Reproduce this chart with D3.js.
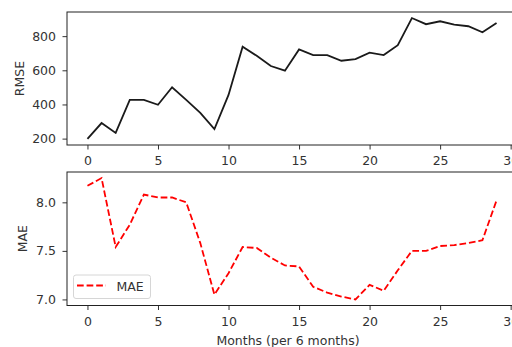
<!DOCTYPE html>
<html>
<head>
<meta charset="utf-8">
<script src="https://cdn.jsdelivr.net/npm/d3@7"></script>
<style>
  body { margin: 0; background: #fff; }
  text { font-family: "DejaVu Sans", sans-serif; fill: #333; }
</style>
</head>
<body>
<div id="chart"></div>
<script>
// months index (per 6 months)
const months = d3.range(0, 30);
const rmse = [198, 291, 233, 427, 427, 398, 501, 427, 351, 256,
  456, 738, 685, 625, 598, 722, 689, 689, 656, 666,
  703, 689, 747, 906, 870, 887, 868, 858, 823, 877];
const mae = [8.17, 8.25, 7.54, 7.77, 8.08, 8.05, 8.05, 8.0, 7.58, 7.05,
  7.27, 7.54, 7.53, 7.43, 7.35, 7.34, 7.13, 7.07, 7.03, 7.0,
  7.15, 7.09, 7.30, 7.50, 7.50, 7.55, 7.56, 7.58, 7.61, 8.02];
const xTicks = [0, 5, 10, 15, 20, 25, 30];
const rmseTicks = [200, 400, 600, 800];
const maeTicks = [7.0, 7.5, 8.0];

const width = 512, height = 347;
const left = 67, right = 517;
const fontSize = "12.5px";
const dash = "6.7,2.9";

const svg = d3.select("#chart").append("svg")
  .attr("width", width).attr("height", height);

// matplotlib style 5% margins
function padded(vals) {
  const [a, b] = d3.extent(vals);
  const m = (b - a) * 0.05;
  return [a - m, b + m];
}

const x = d3.scaleLinear().domain(padded(months)).range([left, right]);

function panel(top, bottom, values, yTicks, fmt, label, labelX, dashed) {
  const y = d3.scaleLinear().domain(padded(values)).range([bottom, top]);
  const g = svg.append("g");

  const line = d3.line().x((d, i) => x(months[i])).y(d => y(d));
  g.append("path")
    .datum(values)
    .attr("d", line)
    .attr("fill", "none")
    .attr("stroke", dashed ? "#ff0000" : "#1a1a1a")
    .attr("stroke-width", 1.8)
    .attr("stroke-dasharray", dashed ? dash : null);

  g.append("g")
    .attr("transform", `translate(0,${bottom})`)
    .call(d3.axisBottom(x).tickValues(xTicks).tickSize(4.5).tickPadding(7).tickFormat(d3.format("d")))
    .call(a => a.select(".domain").remove());

  g.append("g")
    .attr("transform", `translate(${left},0)`)
    .call(d3.axisLeft(y).tickValues(yTicks).tickSize(4.5).tickPadding(6.5).tickFormat(fmt))
    .call(a => a.select(".domain").remove());

  g.selectAll(".tick text").style("font-size", fontSize).attr("fill", "#333");
  g.selectAll(".tick line").attr("stroke", "#333");

  g.append("rect")
    .attr("x", left).attr("y", top)
    .attr("width", right - left).attr("height", bottom - top)
    .attr("fill", "none").attr("stroke", "#222").attr("stroke-width", 1);

  g.append("text")
    .attr("transform", `translate(${labelX},${(top + bottom) / 2}) rotate(-90)`)
    .attr("text-anchor", "middle")
    .attr("dominant-baseline", "central")
    .style("font-size", fontSize)
    .text(label);
  return y;
}

panel(12, 145, rmse, rmseTicks, d3.format("d"), "RMSE", 19, false);
panel(172, 305.5, mae, maeTicks, d3.format(".1f"), "MAE", 22.5, true);

svg.append("text")
  .attr("x", 288).attr("y", 340)
  .attr("text-anchor", "middle")
  .attr("dominant-baseline", "central")
  .style("font-size", fontSize)
  .text("Months (per 6 months)");

// legend
const lg = svg.append("g").attr("transform", "translate(73.5,275)");
lg.append("rect").attr("width", 77).attr("height", 23.5).attr("rx", 2.5)
  .attr("fill", "#fff").attr("fill-opacity", 0.8)
  .attr("stroke", "#d6d6d6");
lg.append("line").attr("x1", 3.5).attr("x2", 32.5).attr("y1", 10.5).attr("y2", 10.5)
  .attr("stroke", "#ff0000").attr("stroke-width", 1.8).attr("stroke-dasharray", dash);
lg.append("text").attr("x", 43).attr("y", 11)
  .attr("dominant-baseline", "central")
  .style("font-size", fontSize)
  .text("MAE");
</script>
</body>
</html>
